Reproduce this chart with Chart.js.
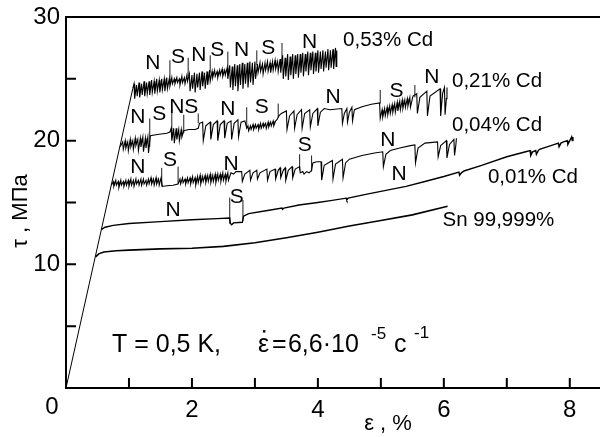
<!DOCTYPE html>
<html>
<head>
<meta charset="utf-8">
<script src="https://cdn.jsdelivr.net/npm/chart.js@4.4.1/dist/chart.umd.min.js"></script>
<style>
  html, body { margin: 0; padding: 0; background: #fff; }
</style>
</head>
<body>
<canvas id="chart" width="600" height="437"></canvas>
<script>
/*globals Chart*/
// strain eps, %  ->  stress tau, MPa
var elastic = [[0, 0], [1.06, 24.2]];

var sn = [[0.47, 10.6], [0.52, 10.85], [0.6, 11.0], [0.8, 11.1], [1.0, 11.15], [1.5, 11.25], [2.0, 11.3],
          [2.5, 11.45], [3.0, 11.75], [3.5, 12.15], [4.0, 12.6], [4.5, 13.1], [5.0, 13.55], [5.5, 14.0], [6.06, 14.7]];

var cd001 = [[0.56, 12.8], [0.62, 13.0], [0.75, 13.15], [1.0, 13.3], [1.5, 13.45], [2.0, 13.6], [2.4, 13.7],
             [2.60, 13.75], [2.61, 13.3], [2.63, 13.2], [2.66, 13.35], [2.80, 13.4], [2.82, 13.9], [2.90, 14.1],
             [3.2, 14.35], [3.43, 14.55], [3.44, 14.45], [3.46, 14.55], [3.7, 14.8], [4.0, 15.0], [4.2, 15.15],
             [4.45, 15.35], [4.46, 15.2], [4.48, 15.35], [4.8, 15.7], [5.1, 16.0], [5.4, 16.3], [5.7, 16.7],
             [6.0, 17.1], [6.24, 17.45], [6.25, 17.2], [6.28, 17.4], [6.32, 17.55], [6.6, 18.0], [7.0, 18.7],
             [7.3, 19.1], [7.37, 19.2], [7.38, 18.8], [7.41, 19.1], [7.46, 19.2], [7.47, 18.9], [7.50, 19.2],
             [7.52, 19.3], [7.7, 19.6], [7.82, 19.8], [7.83, 19.5], [7.86, 19.8], [7.90, 19.9], [7.96, 20.0],
             [7.97, 19.7], [8.0, 20.0], [8.03, 20.3], [8.04, 20.0], [8.05, 20.3]];

var cd004 = [[0.72, 16.4], [0.75, 16.7], [0.76, 16.3], [0.79, 16.8], [0.80, 16.4], [0.83, 16.7], [0.84, 16.2],
             [0.87, 16.8], [0.88, 16.4], [0.91, 16.7], [0.92, 16.3], [0.95, 16.8], [0.96, 16.4], [0.99, 16.8],
             [1.00, 16.3], [1.03, 16.9], [1.04, 16.4], [1.07, 16.8], [1.08, 16.3], [1.11, 16.9], [1.12, 16.5],
             [1.15, 16.8], [1.16, 16.4], [1.19, 16.9], [1.20, 16.4], [1.23, 16.9], [1.24, 16.5], [1.27, 16.8],
             [1.28, 16.4], [1.31, 16.9], [1.32, 16.5], [1.35, 17.0], [1.36, 16.5], [1.39, 16.9], [1.40, 16.4],
             [1.43, 17.0], [1.44, 16.5], [1.47, 16.9], [1.48, 16.4], [1.51, 17.0],
             [1.53, 16.3], [1.60, 16.35], [1.70, 16.4], [1.78, 16.5],
             [1.81, 16.9], [1.82, 16.5], [1.85, 17.0], [1.86, 16.6], [1.89, 16.9], [1.90, 16.5], [1.93, 17.0],
             [1.94, 16.6], [1.97, 17.0], [1.98, 16.5], [2.01, 17.1], [2.02, 16.6], [2.05, 17.0], [2.06, 16.4],
             [2.09, 17.1], [2.10, 16.6], [2.13, 17.2], [2.14, 16.5], [2.17, 17.1], [2.18, 16.7], [2.21, 17.2],
             [2.22, 16.6], [2.25, 17.2], [2.26, 16.7], [2.29, 17.3], [2.30, 16.6], [2.33, 17.2], [2.34, 16.7],
             [2.37, 17.3], [2.38, 16.6], [2.41, 17.3], [2.42, 16.8], [2.45, 17.3], [2.46, 16.7], [2.49, 17.4],
             [2.50, 16.8], [2.53, 17.3], [2.54, 16.7], [2.57, 17.4], [2.58, 16.8], [2.62, 17.4],
             [2.66, 17.3], [2.70, 17.5], [2.79, 17.5], [2.80, 16.7], [2.84, 17.3], [2.92, 17.6], [2.93, 16.8],
             [2.97, 17.4], [3.03, 17.6], [3.04, 16.9], [3.08, 17.4], [3.19, 17.7], [3.20, 16.8], [3.24, 17.5],
             [3.32, 17.7], [3.33, 16.9], [3.37, 17.6], [3.40, 17.8], [3.41, 17.0], [3.45, 17.6], [3.48, 17.8],
             [3.49, 16.8], [3.53, 17.6], [3.59, 17.9], [3.60, 17.0], [3.64, 17.7], [3.71, 17.9],
             [3.72, 17.4], [3.76, 17.5], [3.78, 17.3], [3.82, 17.5], [3.86, 17.4], [3.90, 17.6],
             [3.92, 18.2], [3.98, 18.3], [4.05, 18.3], [4.06, 16.8], [4.10, 18.0], [4.23, 18.4], [4.24, 16.9],
             [4.28, 18.1], [4.39, 18.5], [4.40, 17.0], [4.44, 18.2], [4.50, 18.5], [4.70, 18.8], [4.90, 19.0],
             [5.03, 19.1], [5.04, 17.9], [5.08, 18.9], [5.15, 19.2], [5.30, 19.4], [5.47, 19.6], [5.54, 19.65],
             [5.55, 18.2], [5.59, 19.4], [5.70, 19.8], [5.90, 19.9], [5.91, 18.7], [5.95, 19.6], [6.04, 20.0],
             [6.05, 18.6], [6.09, 19.7], [6.16, 20.1], [6.17, 18.8], [6.19, 19.6], [6.20, 20.2]];

var cd021 = [[0.86, 19.5], [0.90, 19.9], [0.91, 19.3], [0.94, 20.0], [0.95, 19.4], [0.98, 19.9], [0.99, 19.2],
             [1.02, 20.1], [1.03, 19.5], [1.06, 20.0], [1.07, 19.3], [1.10, 20.2], [1.11, 19.6], [1.14, 20.1],
             [1.15, 19.2], [1.18, 20.2], [1.19, 19.5], [1.22, 20.3], [1.23, 19.1], [1.26, 20.2], [1.27, 19.4],
             [1.30, 20.3], [1.31, 19.0], [1.34, 20.4], [1.45, 20.5], [1.60, 20.6], [1.65, 20.7],
             [1.67, 21.0], [1.68, 20.0], [1.71, 21.0], [1.72, 19.8], [1.75, 21.0], [1.76, 20.1], [1.79, 20.9],
             [1.80, 20.0], [1.83, 20.9], [1.84, 20.3], [1.87, 20.8], [1.95, 20.9], [2.05, 20.9], [2.10, 21.0],
             [2.12, 21.4], [2.17, 21.5], [2.18, 20.0], [2.22, 21.2], [2.29, 21.5], [2.30, 20.1], [2.34, 21.3],
             [2.40, 21.6], [2.41, 20.0], [2.45, 21.3], [2.51, 21.6], [2.52, 20.2], [2.56, 21.4], [2.62, 21.6],
             [2.63, 20.1], [2.67, 21.4], [2.73, 21.7], [2.74, 20.3], [2.78, 21.5], [2.84, 21.6],
             [2.87, 21.0], [2.89, 21.2], [2.90, 20.8], [2.93, 21.2], [2.94, 20.9], [2.97, 21.3], [2.98, 20.9],
             [3.01, 21.3], [3.02, 21.0], [3.05, 21.3], [3.06, 20.9], [3.09, 21.4], [3.10, 21.0], [3.13, 21.4],
             [3.14, 21.1], [3.17, 21.4], [3.18, 21.0], [3.21, 21.5], [3.22, 21.1], [3.25, 21.5], [3.26, 21.2],
             [3.29, 21.6], [3.30, 21.2], [3.33, 21.6], [3.35, 21.7], [3.38, 22.0], [3.42, 22.2],
             [3.50, 22.4], [3.51, 20.9], [3.55, 22.0], [3.62, 22.4], [3.63, 21.0], [3.67, 22.1], [3.74, 22.5],
             [3.75, 21.0], [3.79, 22.2], [3.87, 22.5], [3.88, 21.1], [3.92, 22.2], [3.99, 22.6], [4.00, 21.2],
             [4.04, 22.3], [4.10, 22.6], [4.19, 22.5], [4.38, 22.6], [4.39, 21.4], [4.42, 22.2], [4.46, 22.6],
             [4.47, 21.5], [4.50, 22.3], [4.54, 22.7], [4.55, 21.6], [4.58, 22.5], [4.70, 22.75], [4.85, 22.95],
             [4.98, 23.05], [4.99, 21.8],
             [5.02, 22.5], [5.03, 21.9], [5.06, 22.6], [5.07, 22.0], [5.10, 22.7], [5.11, 22.1], [5.14, 22.8],
             [5.15, 22.2], [5.18, 22.9], [5.19, 22.3], [5.22, 23.0], [5.23, 22.3], [5.26, 23.1], [5.27, 22.4],
             [5.30, 23.2], [5.31, 22.5], [5.34, 23.3], [5.35, 22.6], [5.38, 23.3], [5.39, 22.7], [5.42, 23.4],
             [5.43, 22.8], [5.46, 23.5], [5.47, 22.7], [5.51, 23.6],
             [5.57, 23.8], [5.58, 22.2], [5.62, 23.5], [5.73, 24.0], [5.74, 22.0], [5.78, 23.6], [5.94, 24.2],
             [5.95, 22.0], [5.98, 23.8], [6.01, 24.3], [6.02, 22.1], [6.04, 23.4], [6.05, 24.3]];

var cd053 = [[1.06, 24.2], [1.08, 24.6], [1.09, 23.4], [1.12, 24.5], [1.13, 23.6], [1.16, 24.7], [1.17, 23.5],
             [1.20, 24.6], [1.21, 23.7], [1.24, 24.8], [1.25, 23.6], [1.28, 24.7], [1.29, 23.8], [1.32, 24.8],
             [1.33, 23.7], [1.36, 24.9], [1.37, 23.9], [1.40, 24.8], [1.41, 23.8], [1.44, 25.0], [1.45, 24.0],
             [1.48, 24.9], [1.49, 23.9], [1.52, 25.0], [1.53, 24.1], [1.56, 25.0], [1.57, 24.0], [1.60, 25.1],
             [1.61, 24.2], [1.64, 25.0], [1.65, 24.4],
             [1.68, 25.1], [1.69, 24.6], [1.72, 25.0], [1.73, 24.6], [1.76, 25.1], [1.77, 24.7], [1.80, 25.0],
             [1.81, 24.5], [1.84, 25.2], [1.85, 24.7], [1.88, 25.1], [1.89, 24.6], [1.92, 25.3], [1.93, 24.8],
             [1.96, 25.4], [1.97, 24.0], [2.00, 25.3], [2.01, 24.2], [2.04, 25.5], [2.05, 23.9], [2.08, 25.4],
             [2.09, 24.3], [2.12, 25.5], [2.13, 24.1], [2.16, 25.6], [2.17, 24.4], [2.20, 25.5], [2.21, 24.2],
             [2.24, 25.6], [2.25, 24.5], [2.28, 25.7], [2.29, 24.8],
             [2.32, 25.6], [2.33, 25.1], [2.36, 25.7], [2.37, 25.2], [2.40, 25.6], [2.41, 25.1], [2.44, 25.7],
             [2.45, 25.3], [2.48, 25.8], [2.49, 25.2], [2.52, 25.7], [2.53, 25.3], [2.56, 25.9], [2.57, 25.0],
             [2.60, 26.1], [2.61, 24.3], [2.64, 26.0], [2.65, 24.1], [2.68, 26.2], [2.69, 24.4], [2.72, 26.1],
             [2.73, 24.0], [2.76, 26.2], [2.77, 24.5], [2.80, 26.3], [2.81, 24.2], [2.84, 26.2], [2.85, 24.6],
             [2.88, 26.3], [2.89, 24.3], [2.92, 26.4], [2.93, 24.7], [2.96, 26.3], [2.97, 24.5], [3.00, 26.4],
             [3.01, 25.0],
             [3.04, 26.2], [3.05, 25.5], [3.08, 26.3], [3.09, 25.6], [3.12, 26.2], [3.13, 25.4], [3.16, 26.3],
             [3.17, 25.7], [3.20, 26.4], [3.21, 25.6], [3.24, 26.3], [3.25, 25.5], [3.28, 26.4], [3.29, 25.7],
             [3.32, 26.5], [3.33, 25.8], [3.36, 26.4], [3.37, 25.6], [3.40, 26.6], [3.41, 25.5],
             [3.44, 26.9], [3.45, 25.0], [3.48, 26.7], [3.49, 25.2], [3.52, 27.0], [3.53, 24.9], [3.56, 26.8],
             [3.57, 25.3], [3.60, 27.0], [3.61, 25.0], [3.64, 26.9], [3.65, 25.4], [3.68, 27.0], [3.69, 25.1],
             [3.72, 27.0], [3.73, 25.5], [3.76, 27.1], [3.77, 25.2], [3.80, 27.0], [3.81, 25.6], [3.84, 27.2],
             [3.85, 25.3], [3.88, 27.1], [3.89, 25.7], [3.92, 27.2], [3.93, 25.4], [3.96, 27.1], [3.97, 25.6],
             [4.00, 27.3], [4.01, 25.5], [4.04, 27.2], [4.05, 25.8], [4.08, 27.3], [4.09, 25.6], [4.12, 27.2],
             [4.13, 25.9], [4.16, 27.4], [4.17, 25.7], [4.20, 27.3], [4.21, 25.9], [4.24, 27.4], [4.25, 25.8],
             [4.28, 27.5], [4.29, 26.0], [4.30, 27.3]];

// N / S boundary marks: [eps, tau from, tau to]
var marks = [[1.65, 24.9, 26.5], [1.94, 25.2, 26.7], [2.29, 25.5, 26.9], [2.57, 25.9, 27.2], [3.03, 26.1, 27.3], [3.43, 26.5, 27.9],
             [1.33, 19.5, 21.8], [1.68, 20.9, 22.5], [1.87, 20.6, 22.1], [2.10, 21.4, 22.2], [2.87, 21.0, 22.7],
             [3.37, 21.9, 23.0], [4.99, 23.0, 24.1], [5.54, 23.5, 24.5],
             [1.52, 16.3, 17.8], [1.78, 16.5, 17.9], [3.71, 17.6, 18.9], [3.90, 17.5, 18.8],
             [2.60, 13.3, 15.4], [2.81, 13.5, 15.2]];

var stateLabels = [["N", 1.38, 26.27], ["S", 1.78, 26.76], ["N", 2.11, 26.92], ["S", 2.40, 27.32], ["N", 2.79, 27.32],
                   ["S", 3.21, 27.49], ["N", 3.87, 27.97],
                   ["N", 1.14, 21.9], ["S", 1.48, 22.15], ["NS", 1.87, 22.7], ["N", 2.57, 22.55], ["S", 3.11, 22.7],
                   ["N", 4.24, 23.5], ["S", 5.25, 24.0], ["N", 5.81, 25.1],
                   ["N", 1.14, 17.87], ["S", 1.65, 18.4], ["N", 2.62, 18.1], ["S", 3.79, 19.62], ["N", 5.11, 20.05],
                   ["N", 1.70, 14.4], ["S", 2.71, 15.45], ["N", 5.29, 17.3]];

var curveLabels = [["0,53% Cd", 4.40, 28.13], ["0,21% Cd", 6.13, 24.8], ["0,04% Cd", 6.13, 21.26],
                   ["0,01% Cd", 6.70, 17.06], ["Sn 99,999%", 5.98, 13.58]];

var xTicks = [0, 2, 4, 6, 8];
var yTicks = [0, 10, 20, 30];
var FONT = "'Liberation Sans', Arial, Helvetica, sans-serif";

function toPts(arr) {
    return arr.map(function (p) { return {x: p[0], y: p[1]}; });
}

function curve(arr, w) {
    return {data: toPts(arr), showLine: true, borderColor: '#000', borderWidth: w,
            pointRadius: 0, tension: 0, fill: false};
}

var datasets = [curve(elastic, 1), curve(sn, 1.6), curve(cd001, 1.4), curve(cd004, 1.1),
                curve(cd021, 1.1), curve(cd053, 1.1)];
for (let m of marks) {
    datasets.push(curve([[m[0], m[1]], [m[0], m[2]]], 0.9));
}

var framePlugin = {
    id: 'frame',
    afterDraw: function (chart) {
        var ctx = chart.ctx, a = chart.chartArea;
        var sx = chart.scales.x, sy = chart.scales.y;
        ctx.save();
        ctx.strokeStyle = '#000';
        ctx.lineWidth = 2;
        ctx.beginPath();
        ctx.moveTo(a.right, a.top); ctx.lineTo(a.left, a.top);
        ctx.lineTo(a.left, a.bottom); ctx.lineTo(a.right, a.bottom);
        ctx.stroke();
        // inward ticks, every 1 % and every 5 MPa
        ctx.beginPath();
        for (let v = 1; v <= 8; v++) {
            let px = sx.getPixelForValue(v);
            ctx.moveTo(px, a.bottom); ctx.lineTo(px, a.bottom - 10);
        }
        for (let v = 5; v <= 25; v += 5) {
            let py = sy.getPixelForValue(v);
            ctx.moveTo(a.left, py); ctx.lineTo(a.left + 10, py);
        }
        ctx.stroke();

        ctx.fillStyle = '#000';
        ctx.textBaseline = 'middle';
        ctx.textAlign = 'center';
        ctx.font = '24px ' + FONT;
        ctx.fillText('0', a.left - 14, a.bottom + 19);

        ctx.font = '21px ' + FONT;
        for (let l of stateLabels) {
            ctx.fillText(l[0], sx.getPixelForValue(l[1]), sy.getPixelForValue(l[2]));
        }
        ctx.textAlign = 'left';
        ctx.font = '20.5px ' + FONT;
        for (let l of curveLabels) {
            ctx.fillText(l[0], sx.getPixelForValue(l[1]), sy.getPixelForValue(l[2]));
        }

        // conditions
        var bx = sx.getPixelForValue(0.73), by = sy.getPixelForValue(2.9);
        ctx.textBaseline = 'alphabetic';
        ctx.font = '25px ' + FONT;
        ctx.fillText('T = 0,5 K,', bx, by);
        ctx.fillText('\u03b5', bx + 146, by);
        ctx.fillRect(bx + 151, by - 22, 2.4, 2.4);
        ctx.fillText('=', bx + 160, by);
        ctx.fillText('6,6\u00b710', bx + 176, by);
        ctx.font = '17px ' + FONT;
        ctx.fillText('-5', bx + 259, by - 13);
        ctx.font = '25px ' + FONT;
        ctx.fillText('c', bx + 282, by);
        ctx.font = '17px ' + FONT;
        ctx.fillText('-1', bx + 302, by - 14);

        // axis titles
        ctx.font = '22px ' + FONT;
        ctx.textBaseline = 'middle';
        ctx.textAlign = 'center';
        ctx.fillText('\u03b5 , %', 388, 424);
        ctx.translate(21, 211);
        ctx.rotate(-Math.PI / 2);
        ctx.fillText('\u03c4 , \u041c\u041f\u0430', 0, 0);
        ctx.restore();
    }
};

function fixBox(w, h) {
    return function (s) {
        if (w) { s.width = w; }
        if (h) { s.height = h; }
        s.paddingTop = 0; s.paddingBottom = 0; s.paddingLeft = 0; s.paddingRight = 0;
    };
}

new Chart(document.getElementById('chart').getContext('2d'), {
    type: 'scatter',
    data: {datasets: datasets},
    options: {
        responsive: false,
        animation: false,
        devicePixelRatio: 1,
        layout: {padding: {top: 17, right: 0, left: 0, bottom: 0}},
        plugins: {legend: {display: false}, tooltip: {enabled: false}},
        scales: {
            x: {
                type: 'linear', min: 0, max: 8.48,
                afterFit: fixBox(0, 49),
                grid: {display: false, drawTicks: false},
                border: {display: false},
                afterBuildTicks: function (s) { s.ticks = xTicks.map(function (v) { return {value: v}; }); },
                ticks: {
                    padding: 8, color: '#000', font: {family: FONT, size: 24},
                    callback: function (v) { return v === 0 ? '' : String(v); }
                }
            },
            y: {
                type: 'linear', min: 0, max: 30,
                afterFit: fixBox(66, 0),
                grid: {display: false, drawTicks: false},
                border: {display: false},
                afterBuildTicks: function (s) { s.ticks = yTicks.map(function (v) { return {value: v}; }); },
                ticks: {
                    padding: 6, color: '#000', font: {family: FONT, size: 24},
                    callback: function (v) { return v === 0 ? '' : String(v); }
                }
            }
        }
    },
    plugins: [framePlugin]
});
</script>
</body>
</html>
